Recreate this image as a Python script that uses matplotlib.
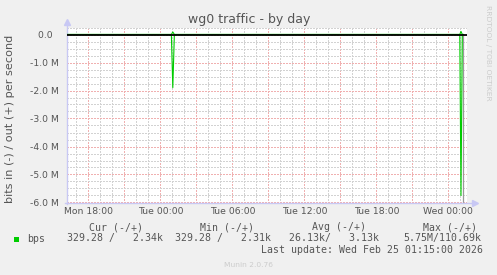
import matplotlib
matplotlib.use('Agg')
import matplotlib.pyplot as plt
from matplotlib.patches import Rectangle

# hours relative to Tue 00:00
x_start = -7.82
x_end = 25.52
last_update = 25.25

tick_hours = [-6, 0, 6, 12, 18, 24]
tick_names = ['Mon 18:00', 'Tue 00:00', 'Tue 06:00', 'Tue 12:00', 'Tue 18:00', 'Wed 00:00']

# bps samples (in drawn negative, out positive)
t_vals = [-7.82, 0.92, 1.04, 1.17, 24.96, 25.06, 25.17, 25.25]
in_bps = [330, 330, 1.9e6, 330, 330, 5.75e6, 330, 329.28]
out_bps = [2340, 2340, 90e3, 2340, 2340, 110.69e3, 2340, 2340]

y_ticks = [0, -1e6, -2e6, -3e6, -4e6, -5e6, -6e6]
y_names = ['0.0  ', '-1.0 M', '-2.0 M', '-3.0 M', '-4.0 M', '-5.0 M', '-6.0 M']

legend_heads = ['Cur (-/+)', 'Min (-/+)', 'Avg (-/+)', 'Max (-/+)']
legend_vals = ['329.28 /   2.34k', '329.28 /   2.31k', '26.13k/   3.13k', '5.75M/110.69k']

W, H = 497, 275
bg = '#f0f0f0'
txt = '#555555'
green = '#00cc00'
axis_col = '#c8c8f4'


def px(x, y):
    return x / W, 1 - y / H


fig = plt.figure(figsize=(W / 100, H / 100), dpi=100, facecolor=bg)
ax = fig.add_axes([66.5 / W, (H - 202.5) / H, 400 / W, 175 / H])
ax.set_facecolor('white')

ax.set_xlim(x_start, x_end)
ax.set_ylim(-6.0e6, 0.25e6)

# grid: red every 3h / 1M, grey every 1h / 0.25M
dot = (0, (1, 1))
for h in range(-7, 26):
    c = '#f0b0b0' if h % 3 == 0 else '#d2d2d2'
    ax.axvline(h, color=c, lw=1, ls=dot, zorder=1, antialiased=False)
for k in range(-24, 2):
    v = k * 0.25e6
    c = '#f0b0b0' if k % 4 == 0 else '#d2d2d2'
    ax.axhline(v, color=c, lw=1, ls=dot, zorder=1, antialiased=False)

ax.plot(t_vals, [-v for v in in_bps], color=green, lw=0.8, zorder=3)
ax.plot(t_vals, out_bps, color=green, lw=0.8, zorder=3)
ax.axhline(0, color='black', lw=1.3, zorder=4)
ax.plot([last_update, last_update], [-6.0e6, 0], color='#999999', lw=0.9, zorder=2)

ax.set_xticks(tick_hours)
ax.set_xticklabels(tick_names)
ax.set_yticks(y_ticks)
ax.set_yticklabels(y_names)
ax.tick_params(axis='both', length=0, labelsize=6.65, labelcolor=txt)
ax.tick_params(axis='x', pad=3)
ax.tick_params(axis='y', pad=5.5)

for s in ax.spines.values():
    s.set_visible(False)

# axes with arrows
ax.plot([-0.004, 1.015], [0, 0], transform=ax.transAxes, color=axis_col, lw=1, clip_on=False)
ax.plot([0, 0], [-0.01, 1.02], transform=ax.transAxes, color=axis_col, lw=1, clip_on=False)
ax.plot([1.022], [0], transform=ax.transAxes, marker='>', ms=5, color=axis_col, clip_on=False)
ax.plot([0], [1.03], transform=ax.transAxes, marker='^', ms=5, color=axis_col, clip_on=False)

fig.text(*px(248.8, 23.5), 'wg0 traffic - by day', ha='center', va='baseline',
         fontsize=9, color=txt)
fig.text(*px(10.5, 119), 'bits in (-) / out (+) per second', rotation=90,
         ha='center', va='center', fontsize=8.1, color=txt)
fig.text(*px(487.7, 5), 'RRDTOOL / TOBI OETIKER', rotation=270, ha='center', va='top',
         fontsize=5.4, color='#cccccc')

mono = 'DejaVu Sans Mono'
for hx, s in zip([89.3, 200, 312, 422.7], legend_heads):
    fig.text(*px(hx, 230.5), s, ha='left', va='baseline', family=mono, fontsize=7.14, color=txt)
fig.patches.append(Rectangle(px(14, 242.3), 5.3 / W, 5.3 / H, transform=fig.transFigure,
                             facecolor=green, edgecolor='none'))
fig.text(*px(26.7, 241.5), 'bps', ha='left', va='baseline', family=mono, fontsize=7.14, color=txt)
for vx, s in zip([66.7, 175, 289, 403.3], legend_vals):
    fig.text(*px(vx, 241.5), s, ha='left', va='baseline', family=mono, fontsize=7.14, color=txt)
fig.text(*px(482.7, 252.8), 'Last update: Wed Feb 25 01:15:00 2026', ha='right', va='baseline',
         family=mono, fontsize=7.14, color=txt)
fig.text(*px(248, 267), 'Munin 2.0.76', ha='center', va='baseline', fontsize=5.4, color='#cccccc')

fig.savefig('out.png', dpi=100, facecolor=bg)
